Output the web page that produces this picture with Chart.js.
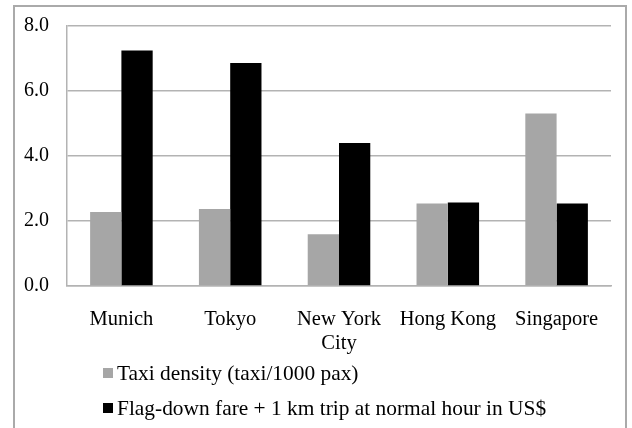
<!DOCTYPE html>
<html>
<head>
<meta charset="utf-8">
<script src="https://cdn.jsdelivr.net/npm/chart.js@4/dist/chart.umd.min.js"></script>
<style>
  html, body { margin: 0; padding: 0; background: #fff; }
  #wrap { position: relative; width: 632px; height: 428px; overflow: hidden; }
  #frame {
    position: absolute; left: 13px; top: 5px; width: 614px; height: 440px;
    border: 2px solid #aaaaaa; box-sizing: border-box;
  }
  canvas { position: absolute; left: 0; top: 0; }
</style>
</head>
<body>
<div id="wrap">
  <div id="frame"></div>
  <canvas id="chart" width="632" height="428"></canvas>
</div>
<script>
// City names (multi-line where the label wraps)
const cities = ['Munich', 'Tokyo', ['New York', 'City'], 'Hong Kong', 'Singapore'];

// Series
const taxiDensity = [2.28, 2.37, 1.59, 2.54, 5.31];
const fareUSD = [7.25, 6.86, 4.40, 2.57, 2.54];

const seriesNames = [
  'Taxi density (taxi/1000 pax)',
  'Flag-down fare + 1 km trip at normal hour in US$'
];

// Value axis
const yMin = 0, yMax = 8, yStep = 2;

const serif = 'Liberation Serif, Times New Roman, serif';

// Two-row legend, left aligned beneath the axis
const stackedLegend = {
  id: 'stackedLegend',
  afterDraw(chart) {
    const ctx = chart.ctx;
    ctx.save();
    ctx.font = '21.4px ' + serif;
    ctx.textBaseline = 'middle';
    ctx.textAlign = 'left';
    const rows = [373, 408];
    chart.data.datasets.forEach((ds, i) => {
      const y = rows[i];
      ctx.fillStyle = ds.backgroundColor;
      ctx.fillRect(103, y - 5, 10, 10);
      ctx.fillStyle = '#000';
      ctx.fillText(ds.label, 117, y + 1);
    });
    ctx.restore();
  }
};

new Chart(document.getElementById('chart'), {
  type: 'bar',
  data: {
    labels: cities,
    datasets: [
      { label: seriesNames[0], data: taxiDensity, backgroundColor: '#a6a6a6' },
      { label: seriesNames[1], data: fareUSD, backgroundColor: '#000000' }
    ]
  },
  options: {
    responsive: false,
    animation: false,
    layout: { padding: { top: 26, right: 21, bottom: 72, left: 0 } },
    datasets: {
      bar: { categoryPercentage: 0.575, barPercentage: 1.0 }
    },
    plugins: {
      legend: { display: false },
      tooltip: { enabled: false }
    },
    scales: {
      x: {
        grid: { display: false },
        border: { display: true, color: '#b3b3b3', width: 1.5 },
        ticks: {
          color: '#000',
          font: { family: serif, size: 20.5 },
          padding: 13,
          maxRotation: 0,
          autoSkip: false
        },
        afterFit(scale) { scale.height = 70; scale.paddingLeft = 0; scale.paddingRight = 0; }
      },
      y: {
        min: yMin,
        max: yMax,
        grid: { color: '#b3b3b3', lineWidth: 1.5, drawTicks: false },
        border: { display: true, color: '#b3b3b3', width: 1.5 },
        ticks: {
          stepSize: yStep,
          color: '#000',
          font: { family: serif, size: 20 },
          padding: 18,
          callback: v => Number(v).toFixed(1)
        },
        afterFit(scale) { scale.width = 67; scale.paddingTop = 0; scale.paddingBottom = 0; }
      }
    }
  },
  plugins: [stackedLegend]
});
</script>
</body>
</html>
